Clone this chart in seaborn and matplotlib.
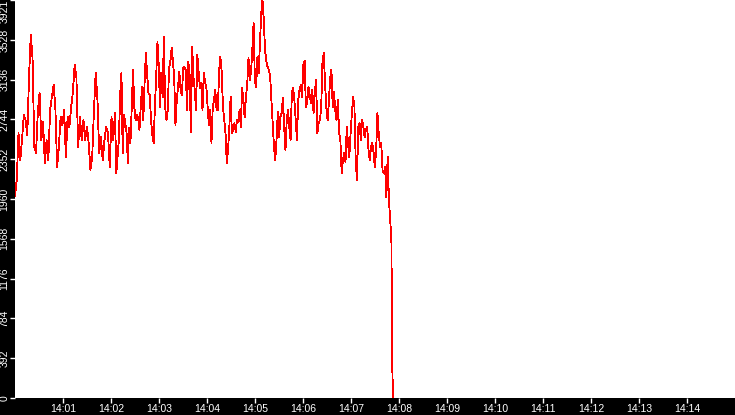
import numpy as np
import pandas as pd
import matplotlib
matplotlib.use("Agg")
import matplotlib.pyplot as plt
import matplotlib.dates as mdates
import seaborn as sns

# values, in four stretches (seconds after 14:00:00)
seg1_span = (0, 125)
seg1 = [1990, 2150, 2611, 2345, 2542, 2788, 2739, 2591, 3163, 3576, 3350, 2473, 2414,
        2808, 3005, 2542, 2719, 2315, 2542, 2345, 2837, 2965, 3084, 2867, 2276, 2473,
        2768, 2690, 2837, 2374, 2768, 2670, 2867, 3015, 3281, 3163, 2473, 2768, 2542,
        2739, 2542, 2670, 2512, 2246, 2374, 2837, 3202, 2936, 2414, 2572, 2345, 2542,
        2670, 2611, 2276, 2768, 2542]
seg2_span = (125, 244)
seg2 = [2808, 2217, 2374, 2542, 2985, 3202, 2414, 2788, 2709, 2611, 2315, 2660, 2512,
        2857, 3232, 2867, 2739, 2788, 2758, 2640, 2867, 3064, 2739, 3113, 3399, 3182,
        3005, 2985, 2739, 2591, 2512, 2867, 3163, 3507, 3281, 2867, 3202, 2965, 3556,
        2867, 2739, 2837, 3251, 3310, 3448, 3320, 3163, 2690, 2936, 3064, 3212, 3034,
        2985, 3251, 3261, 3232, 2837, 3310, 3182, 2621, 3458, 3153, 3034, 2837, 3379,
        3212, 3054, 3103, 2837, 3202, 3113, 3064, 2867, 2690]
seg3_span = (244, 362)
seg3 = [2837, 2512, 2867, 2936, 3034, 2837, 2837, 3232, 3359, 3212, 2867, 2739, 2611,
        2315, 2443, 2670, 2965, 2611, 2640, 2709, 2621, 2739, 2719, 2837, 2670, 3054,
        2936, 2768, 2965, 3084, 3350, 3133, 3212, 3428, 3694, 3133, 3064, 3359, 3202,
        3497, 3793, 3921, 3724, 3428, 3320, 3261, 3232, 3163, 2936, 2690, 2473, 2345,
        2542, 2818, 2572, 2768, 2808, 2955, 2670, 2443, 2739, 2837, 2670, 2542, 3005,
        3054, 2936, 2739, 2542, 2936, 3034, 3084, 2965, 3281]
seg4_span = (362, 469)
seg4 = [3320, 2867, 2906, 3064, 2985, 2906, 3034, 2808, 3005, 3133, 2611, 2709, 2739,
        2867, 3320, 3399, 3103, 2867, 2739, 2916, 3153, 3232, 2867, 3015, 2837, 2739,
        2936, 2611, 2542, 2217, 2345, 2414, 2325, 2670, 2512, 2374, 2611, 2808, 2965,
        2867, 2345, 2148, 2670, 2709, 2542, 2739, 2670, 2572, 2640, 2670, 2443, 2345,
        2473, 2512, 2414, 2276, 2443, 2808, 2611, 2473, 2512, 2246, 2217, 2276, 1980,
        2374, 1951]
tail_secs = [470.5, 471.5, 472.5]
tail = [1560, 350, 0]

ytick_vals = [0, 392, 784, 1176, 1568, 1960, 2352, 2744, 3136, 3528, 3921]

secs = []
vals = []
for span, seg in [(seg1_span, seg1), (seg2_span, seg2), (seg3_span, seg3), (seg4_span, seg4)]:
    secs += list(np.linspace(span[0], span[1], len(seg), endpoint=False))
    vals += seg
secs += tail_secs
vals += tail

start = pd.Timestamp("2024-01-01 14:00:00")
df = pd.DataFrame({
    "time": start + pd.to_timedelta(secs, unit="s"),
    "value": vals,
})

plt.rcParams["font.family"] = ["Liberation Sans", "DejaVu Sans"]

fig = plt.figure(figsize=(7.35, 4.15), dpi=100, facecolor="black")
ax = fig.add_axes([15 / 735, 17 / 415, 720 / 735, 398 / 415])
ax.set_facecolor("white")

sns.lineplot(data=df, x="time", y="value", color="red", linewidth=0.6, ax=ax)
for ln in ax.lines:
    ln.set_antialiased(False)

ax.set_xlim(start, start + pd.Timedelta(minutes=15))
ax.set_ylim(0, 3921)
ax.xaxis.set_major_locator(mdates.MinuteLocator(byminute=range(1, 15)))
ax.xaxis.set_major_formatter(mdates.DateFormatter("%H:%M"))
ax.set_yticks(ytick_vals)
ax.set_yticklabels([str(v) for v in ytick_vals])

ax.tick_params(axis="both", colors="white", labelsize=7.5, length=3.5, width=1, pad=0.5)
ax.tick_params(axis="x", pad=1)
for lab in ax.get_yticklabels():
    lab.set_rotation(90)
    lab.set_va("center")
ax.get_yticklabels()[-1].set_va("top")

for sp in ax.spines.values():
    sp.set_visible(False)
ax.set_xlabel("")
ax.set_ylabel("")

fig.savefig("out.png", dpi=100, facecolor="black")
